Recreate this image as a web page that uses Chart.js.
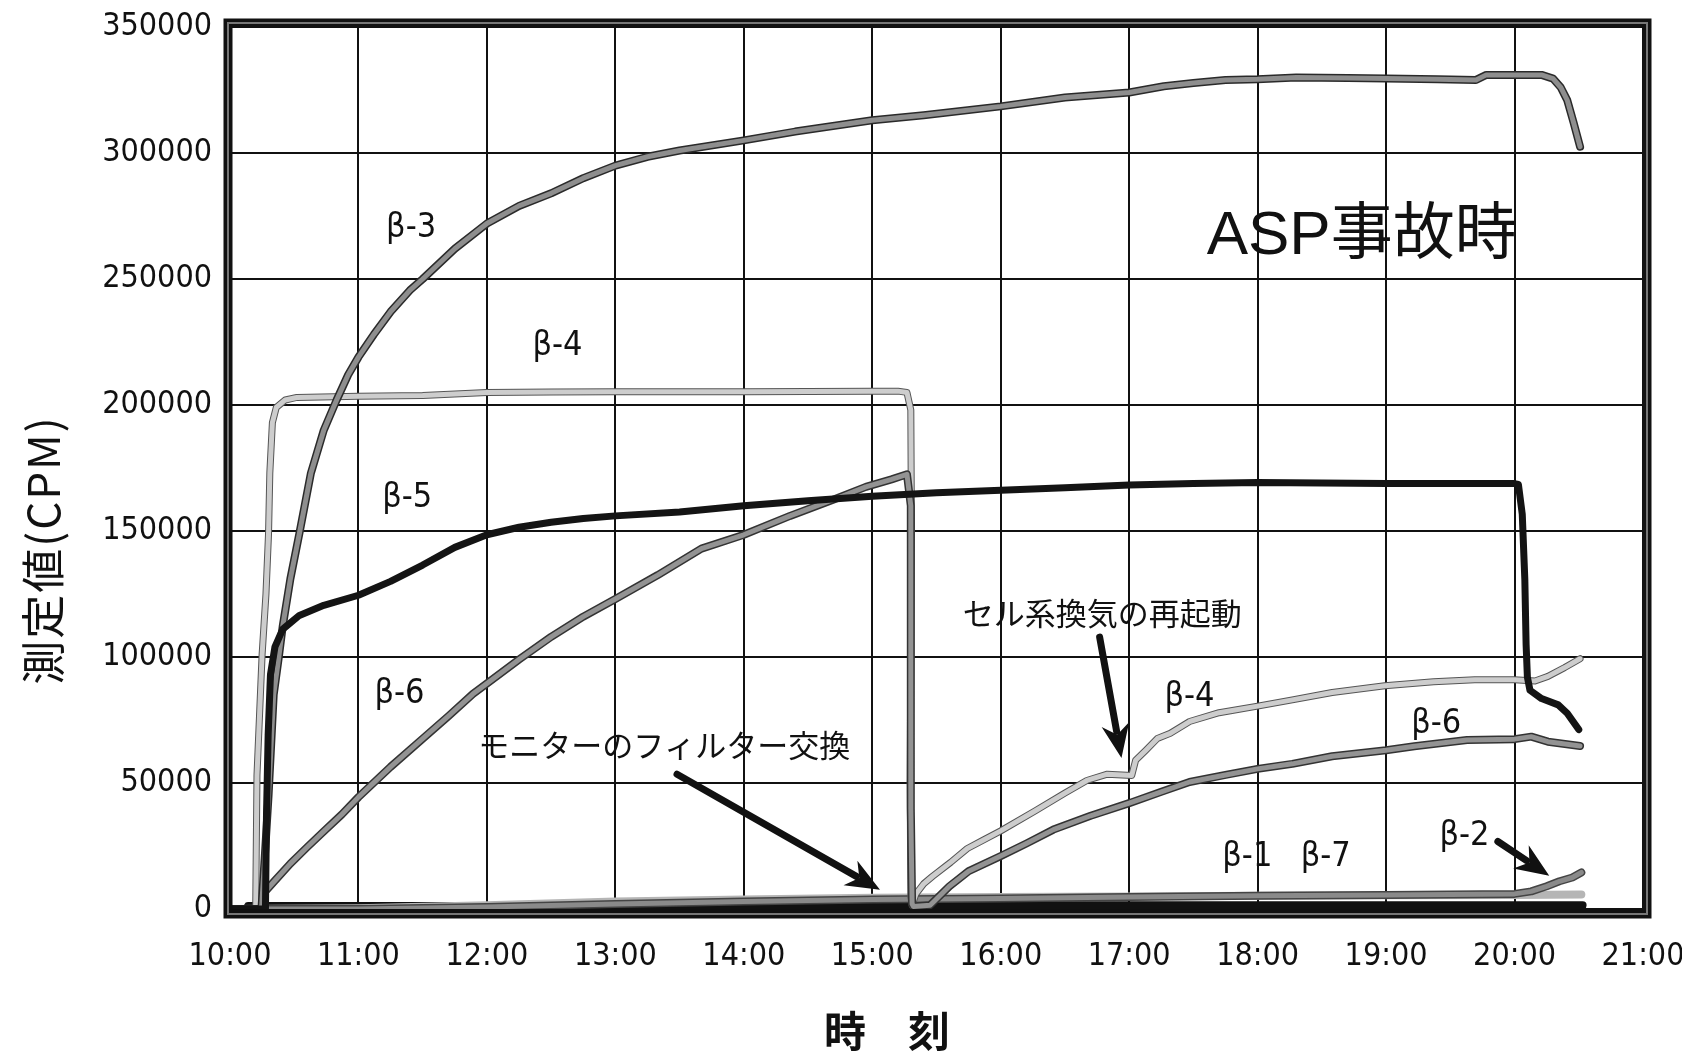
<!DOCTYPE html>
<html><head><meta charset="utf-8">
<script src="https://cdn.jsdelivr.net/npm/chart.js@4.4.1/dist/chart.umd.min.js"></script>
<style>html,body{margin:0;padding:0;background:#fff;}#wrap{width:1682px;height:1054px;}</style>
</head><body><div id="wrap"><canvas id="c" width="1682" height="1054"></canvas></div>
<script>
const NARROW = '"DejaVu Sans Condensed", "Liberation Sans", sans-serif';
const JP = '"Noto Sans CJK JP", "Liberation Sans", sans-serif';

// ---- tick labels ----
const xTickLabels = ['10:00','11:00','12:00','13:00','14:00','15:00','16:00','17:00','18:00','19:00','20:00','21:00'];
const yTickLabels = ['0','50000','100000','150000','200000','250000','300000','350000'];

// ---- series (time in hours, value in CPM) ----
const b3Time = [10.0,10.245,10.27,10.3,10.34,10.38,10.41,10.47,10.54,10.63,10.73,10.83,10.92,11.0,11.12,11.25,11.4,11.5,11.75,12.0,12.25,12.5,12.75,13.0,13.25,13.5,14.0,14.4,15.0,15.4,16.0,16.5,17.0,17.27,17.5,17.75,18.0,18.3,18.7,19.0,19.4,19.7,19.78,20.0,20.21,20.3,20.36,20.41,20.46,20.51];
const b3Val  = [0,0,20000,45000,85000,100000,112000,131000,149000,173000,190000,202000,212000,219000,228000,237000,245500,250000,262000,272000,279000,284000,290000,295000,298500,301000,305000,308500,313000,315000,318500,322000,324000,326500,327800,329000,329300,330000,329800,329600,329300,329000,331000,331000,331000,329500,326000,321000,312000,302500];

const b4Time = [10.0,10.2,10.21,10.23,10.25,10.28,10.3,10.31,10.33,10.36,10.43,10.52,11.0,11.5,12.0,12.5,13.0,14.0,15.0,15.2,15.27,15.3,15.305,15.3,15.295,15.3,15.31,15.34,15.4,15.47,15.61,15.74,15.87,16.0,16.27,16.5,16.67,16.83,17.02,17.05,17.13,17.22,17.32,17.47,17.7,18.0,18.27,18.58,18.99,19.37,19.69,20.0,20.16,20.26,20.39,20.51];
const b4Val  = [0,0,53000,77000,101000,125000,149000,173000,193000,199000,202000,203000,203500,203800,205000,205200,205300,205300,205500,205500,205000,198000,150000,100000,50000,5000,1500,6000,10000,13000,18500,24000,27500,31000,39000,46000,51000,53500,53000,59000,63000,67700,69700,74400,77900,80500,83000,85900,88600,90200,91000,91000,90500,92300,95800,99300];

const b5Time = [10.0,10.276,10.284,10.297,10.315,10.35,10.41,10.54,10.73,11.0,11.25,11.5,11.75,12.0,12.25,12.5,12.75,13.0,13.5,14.0,14.5,15.0,15.5,16.0,16.5,17.0,17.5,18.0,18.5,19.0,19.5,20.0,20.03,20.06,20.08,20.09,20.1,20.12,20.21,20.34,20.41,20.5];
const b5Val  = [0,0,37000,69000,93000,104000,111000,116500,120500,124500,130000,136500,143500,148500,151500,153500,155000,156000,157500,160000,162000,163800,165200,166200,167200,168300,168800,169200,169000,168800,168800,168800,168500,156700,130800,104900,92000,86800,83500,81000,77700,71200];

const b6Time = [10.0,10.245,10.27,10.34,10.47,10.6,10.73,10.87,11.0,11.25,11.5,11.7,11.89,12.0,12.25,12.5,12.75,13.0,13.33,13.67,14.0,14.36,14.7,14.95,15.15,15.27,15.3,15.3,15.3,15.31,15.32,15.45,15.5,15.6,15.75,16.0,16.2,16.41,16.7,17.0,17.25,17.47,17.75,18.0,18.27,18.58,19.0,19.22,19.63,20.0,20.13,20.26,20.51];
const b6Val  = [0,0,6700,10700,18000,24500,30800,37500,44400,56400,67600,76500,85300,89500,99000,108000,116000,123000,132500,143000,148500,156000,162500,167500,170500,172500,160000,100000,40000,2000,1000,1500,4000,9000,15000,21000,26000,31500,37000,42000,46500,50400,53200,55600,57600,60600,63000,64600,67100,67400,68400,66400,64700];

const b1Time = [10.0,10.13,10.14,12.0,15.0,18.0,20.53];
const b1Val  = [0,0,1200,1200,1500,1500,1500];

const b7Time = [10.0,11.0,12.0,13.0,14.0,15.0,16.0,17.0,18.0,19.0,20.0,20.52];
const b7Val  = [0,300,1500,3000,3800,4500,4800,5000,5300,5500,5600,5800];

const b2Time = [10.0,11.0,12.0,13.0,14.0,15.0,16.0,17.0,18.0,19.0,20.0,20.13,20.25,20.35,20.45,20.52];
const b2Val  = [0,0,800,2000,3000,3800,4200,4800,5300,5600,6000,7000,9000,11000,12500,14500];

// ---- annotations (data coordinates) ----
const seriesLabelText = ['β-3','β-4','β-5','β-6','β-4','β-6','β-1','β-7','β-2'];
const seriesLabelX    = [11.41,12.55,11.38,11.32,17.47,19.39,17.92,18.53,19.61];
const seriesLabelY    = [270200,223400,163100,85400,84100,73500,20400,20400,28900];

const noteText = ['ASP事故時','モニターのフィルター交換','セル系換気の再起動'];
const noteX    = [18.81,13.38,16.79];
const noteY    = [266800,65000,117200];

const arrowTailX = [13.48,16.77,19.87];
const arrowTailY = [53500,107900,26800];
const arrowHeadX = [15.06,16.94,20.27];
const arrowHeadY = [7600,59900,13200];

const yTitle = '測定値(CPM)';
const xTitle = '時　刻';

function pts(t, v){ return t.map((x,i)=>({x:x, y:v[i]})); }

const outlinePlugin = {
  id:'outline',
  beforeDatasetDraw(chart, args){
    const ds = chart.data.datasets[args.index];
    if(!ds.outlineWidth) return;
    const ctx = chart.ctx, a = chart.chartArea, p = args.meta.data;
    ctx.save();
    ctx.beginPath(); ctx.rect(a.left, a.top-10, a.right-a.left, a.bottom-a.top+10); ctx.clip();
    ctx.beginPath();
    p.forEach((e,i)=>{ if(i===0) ctx.moveTo(e.x,e.y); else ctx.lineTo(e.x,e.y); });
    ctx.lineWidth = ds.outlineWidth; ctx.strokeStyle = ds.outlineColor;
    ctx.lineJoin='round'; ctx.lineCap='round';
    ctx.stroke();
    ctx.restore();
  }
};

const framePlugin = {
  id:'frame',
  afterDatasetsDraw(chart){
    const ctx = chart.ctx, a = chart.chartArea;
    ctx.save();
    ctx.strokeStyle = '#111'; ctx.lineWidth = 9;
    ctx.strokeRect(a.left-2, a.top-4, a.right-a.left+6, a.bottom-a.top+9);
    ctx.strokeStyle = '#777'; ctx.lineWidth = 2;
    ctx.strokeRect(a.left-2, a.top-4, a.right-a.left+6, a.bottom-a.top+9);
    ctx.restore();
  }
};

const annotPlugin = {
  id:'annot',
  afterDraw(chart){
    const ctx = chart.ctx, xs = chart.scales.x, ys = chart.scales.y, a = chart.chartArea;
    ctx.save();
    ctx.fillStyle = '#111'; ctx.textAlign='center'; ctx.textBaseline='middle';
    ctx.font = '34px ' + NARROW;
    seriesLabelText.forEach((t,i)=>ctx.fillText(t, xs.getPixelForValue(seriesLabelX[i]), ys.getPixelForValue(seriesLabelY[i])));
    const noteFonts = ['62px "Liberation Sans", "Noto Sans CJK JP", sans-serif', '31px '+JP, '31px '+JP];
    noteText.forEach((t,i)=>{ ctx.font = noteFonts[i]; ctx.fillText(t, xs.getPixelForValue(noteX[i]), ys.getPixelForValue(noteY[i])); });
    // arrows
    arrowTailX.forEach((_,i)=>{
      const x1 = xs.getPixelForValue(arrowTailX[i]), y1 = ys.getPixelForValue(arrowTailY[i]);
      const x2 = xs.getPixelForValue(arrowHeadX[i]), y2 = ys.getPixelForValue(arrowHeadY[i]);
      const ang = Math.atan2(y2-y1, x2-x1), hl = 34, hw = 14;
      const bx = x2 - Math.cos(ang)*hl*0.8, by = y2 - Math.sin(ang)*hl*0.8;
      ctx.strokeStyle='#111'; ctx.lineWidth=7; ctx.lineCap='round';
      ctx.beginPath(); ctx.moveTo(x1,y1); ctx.lineTo(bx,by); ctx.stroke();
      ctx.beginPath();
      ctx.moveTo(x2,y2);
      ctx.lineTo(x2 - Math.cos(ang)*hl + Math.sin(ang)*hw, y2 - Math.sin(ang)*hl - Math.cos(ang)*hw);
      ctx.lineTo(x2 - Math.cos(ang)*hl*0.7, y2 - Math.sin(ang)*hl*0.7);
      ctx.lineTo(x2 - Math.cos(ang)*hl - Math.sin(ang)*hw, y2 - Math.sin(ang)*hl + Math.cos(ang)*hw);
      ctx.closePath(); ctx.fillStyle='#111'; ctx.fill();
    });
    // x axis title
    ctx.font = 'bold 42px ' + JP; ctx.fillStyle = '#111';
    ctx.fillText(xTitle, 887, 1031);
    // y axis title
    ctx.translate(43, (a.top+a.bottom)/2 + 82);
    ctx.rotate(-Math.PI/2);
    ctx.font = '44px ' + JP; ctx.fillStyle='#111';
    try { ctx.letterSpacing = '2px'; } catch(e) {}
    ctx.fillText(yTitle, 0, 0);
    ctx.restore();
  }
};

function line(label, t, v, color, width, oc, ow){
  return {label, data: pts(t,v), borderColor: color, borderWidth: width, outlineColor: oc, outlineWidth: ow,
          pointRadius: 0, tension: 0, fill: false, borderJoinStyle: 'round', borderCapStyle: 'round'};
}

new Chart(document.getElementById('c'), {
  type: 'line',
  data: { datasets: [
    line('β-5', b5Time, b5Val, '#141414', 7),
    line('β-3', b3Time, b3Val, '#8e8e8e', 5, '#2a2a2a', 8),
    line('β-6', b6Time, b6Val, '#939393', 5, '#333', 8),
    line('β-4', b4Time, b4Val, '#cdcdcd', 5, '#555', 7),
    line('β-2', b2Time, b2Val, '#8a8a8a', 5, '#444', 8),
    line('β-7', b7Time, b7Val, '#b5b5b5', 8),
    line('β-1', b1Time, b1Val, '#111', 8)
  ]},
  options: {
    responsive: false, devicePixelRatio: 1, animation: false,
    layout: { padding: { top: 27, right: 39, left: 0, bottom: 0 } },
    plugins: { legend: { display: false }, tooltip: { enabled: false } },
    scales: {
      x: { type: 'linear', min: 10, max: 21,
        afterFit: s => { s.height = 145; s.paddingLeft = 0; s.paddingRight = 0; },
        ticks: { stepSize: 1, autoSkip: false, maxRotation: 0, padding: 28, color: '#111',
          font: { family: NARROW, size: 32 },
          callback: v => xTickLabels[Math.round(v - 10)] },
        grid: { color: '#111', lineWidth: 2, drawTicks: false },
        border: { display: false },
        title: { display: false, text: xTitle }
      },
      y: { min: 0, max: 350000,
        afterFit: s => { s.width = 230; s.paddingTop = 0; s.paddingBottom = 0; },
        ticks: { stepSize: 50000, padding: 18, color: '#111', font: { family: NARROW, size: 32 },
          callback: v => yTickLabels[Math.round(v / 50000)] },
        grid: { color: '#111', lineWidth: 2, drawTicks: false },
        border: { display: false },
        title: { display: false, text: yTitle }
      }
    }
  },
  plugins: [outlinePlugin, framePlugin, annotPlugin]
});
</script></body></html>
